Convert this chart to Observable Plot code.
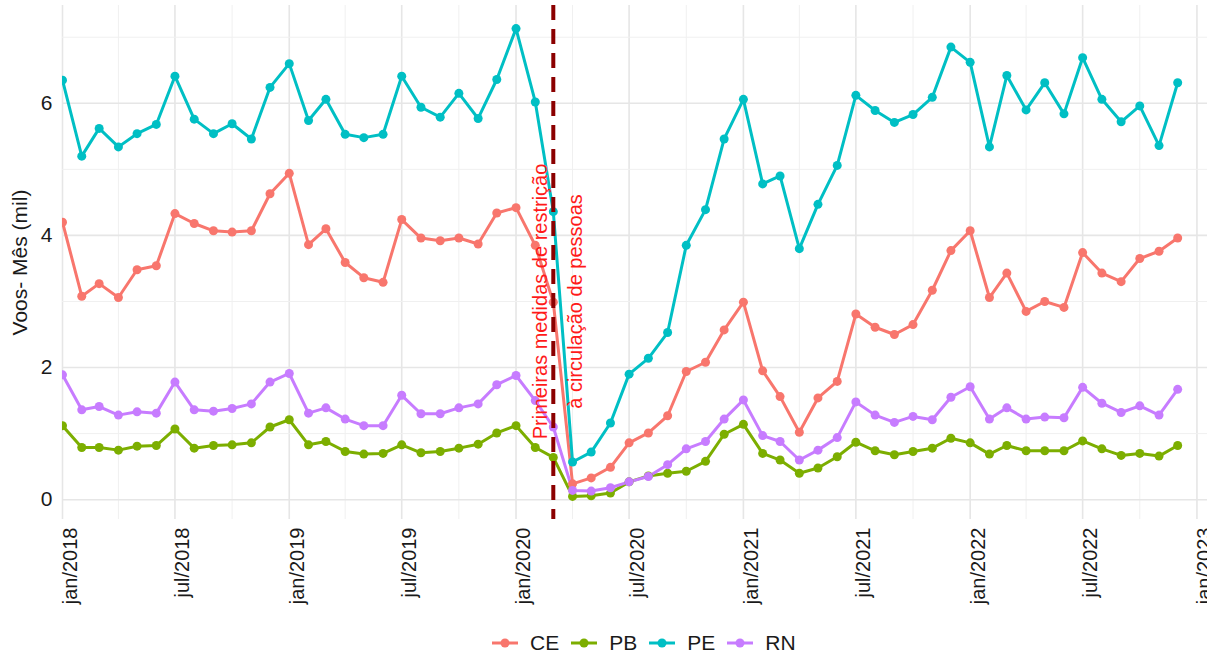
<!DOCTYPE html>
<html>
<head>
<meta charset="utf-8">
<script src="https://cdn.jsdelivr.net/npm/d3@7"></script>
<script src="https://cdn.jsdelivr.net/npm/@observablehq/plot@0.6"></script>
<style>
  html, body { margin: 0; padding: 0; background: #fff; }
  body { width: 1207px; height: 656px; overflow: hidden; position: relative; font-family: "Liberation Sans", Arial, sans-serif; }
  #legend { position: absolute; left: 492px; top: 631px; display: flex; align-items: center; font-size: 21px; color: #1a1a1a; }
  .item { display: flex; align-items: center; margin-right: 12px; }
  .item svg { margin-right: 12px; }
</style>
</head>
<body>
<div id="chart"></div>
<div id="legend"></div>
<script>
// ---- data (monthly, jan/2018 .. dec/2022), thousands of flights ----
const states = ["CE", "PB", "PE", "RN"];
const colors = ["#F8766D", "#7CAE00", "#00BFC4", "#C77CFF"];
const startMonth = "2018-01-01";
const endMonth = "2023-01-01";

const CE = [4.20,3.08,3.27,3.06,3.48,3.54,4.33,4.18,4.07,4.05,4.07,4.63,4.94,
            3.86,4.10,3.59,3.36,3.29,4.24,3.96,3.92,3.96,3.87,4.34,4.42,3.85,2.99,
            0.24,0.33,0.49,0.86,1.01,1.27,1.94,2.08,2.57,2.99,1.95,1.56,1.02,1.54,1.79,2.81,2.61,
            2.50,2.65,3.17,3.77,4.07,3.06,3.43,2.85,3.00,2.91,3.74,3.43,3.30,3.65,3.76,3.96];
const PB = [1.12,0.79,0.79,0.75,0.81,0.82,1.07,0.78,0.82,0.83,0.86,1.10,1.21,
            0.83,0.88,0.73,0.69,0.70,0.83,0.71,0.73,0.78,0.84,1.01,1.12,0.79,0.64,
            0.05,0.06,0.10,0.27,0.36,0.40,0.43,0.58,0.99,1.14,0.70,0.60,0.40,0.48,0.65,0.87,0.74,
            0.68,0.73,0.78,0.93,0.86,0.69,0.82,0.74,0.74,0.74,0.89,0.77,0.67,0.70,0.66,0.82];
const PE = [6.35,5.20,5.62,5.34,5.54,5.68,6.41,5.76,5.54,5.69,5.46,6.24,6.60,
            5.74,6.06,5.53,5.48,5.53,6.41,5.94,5.79,6.15,5.77,6.36,7.13,6.02,4.36,
            0.57,0.72,1.16,1.90,2.14,2.53,3.85,4.39,5.46,6.06,4.78,4.90,3.80,4.47,5.06,6.12,5.89,
            5.71,5.83,6.09,6.85,6.62,5.34,6.42,5.90,6.31,5.84,6.69,6.06,5.72,5.96,5.36,6.31];
const RN = [1.89,1.36,1.41,1.28,1.33,1.31,1.78,1.36,1.34,1.38,1.45,1.78,1.91,
            1.31,1.39,1.22,1.12,1.12,1.58,1.30,1.30,1.39,1.45,1.74,1.88,1.50,1.10,
            0.14,0.13,0.18,0.27,0.35,0.53,0.77,0.88,1.22,1.51,0.97,0.88,0.60,0.75,0.94,1.48,1.28,
            1.17,1.26,1.21,1.55,1.71,1.22,1.39,1.22,1.25,1.24,1.70,1.46,1.32,1.42,1.28,1.67];

const tickLabels = ["jan/2018","jul/2018","jan/2019","jul/2019","jan/2020","jul/2020",
                    "jan/2021","jul/2021","jan/2022","jul/2022","jan/2023"];
const tickDates = ["2018-01-01","2018-07-01","2019-01-01","2019-07-01","2020-01-01","2020-07-01",
                   "2021-01-01","2021-07-01","2022-01-01","2022-07-01","2023-01-01"];
const minorDates = ["2018-04-01","2018-10-01","2019-04-01","2019-10-01","2020-04-01","2020-10-01",
                    "2021-04-01","2021-10-01","2022-04-01","2022-10-01"];
const yMajor = [0, 2, 4, 6];
const yMinor = [1, 3, 5, 7];
const restrictionDate = "2020-03-01";
const annotation = "Primeiras medidas de restrição\nà circulação de pessoas";
const yLabel = "Voos- Mês (mil)";

// ---- build table ----
const months = d3.utcMonth.range(new Date(startMonth), new Date(endMonth));
const series = {CE, PB, PE, RN};
const rows = [];
for (const s of states) series[s].forEach((v, i) => rows.push({date: months[i], state: s, value: v}));
const tDates = tickDates.map(d => new Date(d));
const labelOf = new Map(tDates.map((d, i) => [+d, tickLabels[i]]));

const chart = Plot.plot({
  width: 1207,
  height: 620,
  marginLeft: 62,
  marginRight: 0,
  marginTop: 5,
  marginBottom: 101,
  style: {fontFamily: "'Liberation Sans', Arial, sans-serif", background: "#fff"},
  x: {type: "utc", domain: [new Date(startMonth), new Date("2023-01-18")]},
  y: {domain: [-0.30, 7.48]},
  color: {domain: states, range: colors},
  marks: [
    Plot.ruleX(minorDates.map(d => new Date(d)), {stroke: "#f0f0f0", strokeWidth: 1}),
    Plot.ruleX(tDates, {stroke: "#e6e6e6", strokeWidth: 1.6}),
    Plot.ruleY(yMinor, {stroke: "#f0f0f0", strokeWidth: 1}),
    Plot.ruleY(yMajor, {stroke: "#e6e6e6", strokeWidth: 1.6}),
    Plot.line(rows, {x: "date", y: "value", z: "state", stroke: "state", strokeWidth: 3, clip: true}),
    Plot.dot(rows, {x: "date", y: "value", fill: "state", r: 4.5, clip: true}),
    Plot.ruleX([new Date(restrictionDate)], {stroke: "#8B0000", strokeWidth: 4, strokeDasharray: "15,9"}),
    Plot.text([annotation], {x: new Date(restrictionDate), y: 3.0, text: d => d, rotate: -90,
      fontSize: 20, lineHeight: 1.75, fill: "#ff1a1a", textAnchor: "middle"}),
    Plot.axisX(tDates, {tickFormat: d => labelOf.get(+d), tickRotate: -90, tickSize: 0,
      tickPadding: 8, fontSize: 20, dx: 8, fill: "#1a1a1a", label: null}),
    Plot.axisY(yMajor, {tickFormat: "d", tickSize: 0, tickPadding: 10, fontSize: 21, fill: "#1a1a1a",
      label: yLabel, labelAnchor: "center", labelArrow: "none", labelOffset: 50})
  ]
});
document.getElementById("chart").appendChild(chart);

// ---- legend ----
const legend = document.getElementById("legend");
states.forEach((s, i) => {
  const item = document.createElement("div");
  item.className = "item";
  item.innerHTML = `<svg width="26" height="12"><line x1="0" y1="6" x2="26" y2="6" stroke="${colors[i]}" stroke-width="3"/><circle cx="13" cy="6" r="4.5" fill="${colors[i]}"/></svg><span>${s}</span>`;
  legend.appendChild(item);
});
</script>
</body>
</html>
